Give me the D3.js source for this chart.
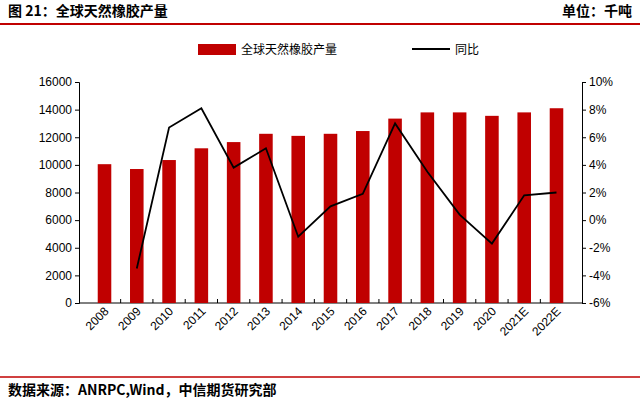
<!DOCTYPE html><html><head><meta charset="utf-8"><script src="https://cdn.jsdelivr.net/npm/d3@7"></script>
<style>body{margin:0;background:#fff}text{font-family:"Noto Sans CJK SC","Noto Sans",sans-serif}text.num{font-family:"Liberation Sans",Arial,sans-serif}</style></head><body><svg width="640" height="400"></svg><script>
const categories=["2008","2009","2010","2011","2012","2013","2014","2015","2016","2017","2018","2019","2020","2021E","2022E"];
const production=[10050,9700,10350,11200,11650,12250,12100,12250,12450,13350,13800,13800,13550,13800,14100];
const yoy=[null,-3.5,6.7,8.1,3.8,5.2,-1.2,1.0,1.9,7.0,3.5,0.4,-1.7,1.8,2.0];
const leftTicks=[0,2000,4000,6000,8000,10000,12000,14000,16000];
const rightTicks=[-6,-4,-2,0,2,4,6,8,10];
const svg=d3.select("svg");
const red="#c00000";
svg.append("text").attr("x",8).attr("y",16).attr("font-size",14).attr("font-weight","bold").text("图 21：全球天然橡胶产量");
svg.append("text").attr("x",632).attr("y",16).attr("font-size",14).attr("font-weight","bold").attr("text-anchor","end").text("单位：千吨");
svg.append("line").attr("x1",0).attr("x2",640).attr("y1",24).attr("y2",24).attr("stroke",red).attr("stroke-width",2);
svg.append("line").attr("x1",0).attr("x2",640).attr("y1",377).attr("y2",377).attr("stroke",red).attr("stroke-width",1.5);
svg.append("text").attr("x",8).attr("y",395).attr("font-size",14).attr("font-weight","bold").text("数据来源：ANRPC,Wind，中信期货研究部");
const x=d3.scaleBand().domain(categories).range([79,582]).padding(0.58);
const yL=d3.scaleLinear().domain([0,16000]).range([303,82]);
const yR=d3.scaleLinear().domain([-6,10]).range([303,82]);
svg.append("line").attr("x1",79).attr("x2",582).attr("y1",303).attr("y2",303).attr("stroke","#000");
svg.append("g").selectAll("line").data(categories.slice(1)).join("line").attr("x1",d=>x(d)-x.step()*x.paddingInner()/2).attr("x2",d=>x(d)-x.step()*x.paddingInner()/2).attr("y1",303).attr("y2",299).attr("stroke","#000");
svg.append("g").selectAll("text").data(categories).join("text").attr("class","num").attr("font-size",12)
 .attr("transform",d=>`translate(${x(d)+x.bandwidth()/2+5},312) rotate(-45)`).attr("text-anchor","end").text(d=>d);
const gl=svg.append("g").attr("transform","translate(79,0)").call(d3.axisLeft(yL).tickValues(leftTicks).tickSize(4).tickFormat(d=>d));
gl.selectAll("text").attr("class","num").attr("font-size",12);
const gr=svg.append("g").attr("transform","translate(582,0)").call(d3.axisRight(yR).tickValues(rightTicks).tickSize(4).tickFormat(d=>String(d)+"%"));
gr.selectAll("text").attr("class","num").attr("font-size",12);
svg.selectAll(".domain,.tick line").attr("stroke","#000");
svg.append("g").selectAll("rect").data(categories).join("rect").attr("x",d=>x(d)).attr("width",x.bandwidth())
 .attr("y",(d,i)=>yL(production[i])).attr("height",(d,i)=>303-yL(production[i])).attr("fill",red);
const pts=categories.map((c,i)=>[c,yoy[i]]).filter(d=>d[1]!==null);
svg.append("path").datum(pts).attr("fill","none").attr("stroke","#000").attr("stroke-width",1.8)
 .attr("d",d3.line().x(d=>x(d[0])+x.bandwidth()/2).y(d=>yR(d[1])));
svg.append("rect").attr("x",198).attr("y",44).attr("width",38).attr("height",11).attr("fill",red);
svg.append("text").attr("x",241).attr("y",54).attr("font-size",12).text("全球天然橡胶产量");
svg.append("line").attr("x1",412).attr("x2",450).attr("y1",49).attr("y2",49).attr("stroke","#000").attr("stroke-width",2);
svg.append("text").attr("x",455).attr("y",54).attr("font-size",12).text("同比");
</script></body></html>
